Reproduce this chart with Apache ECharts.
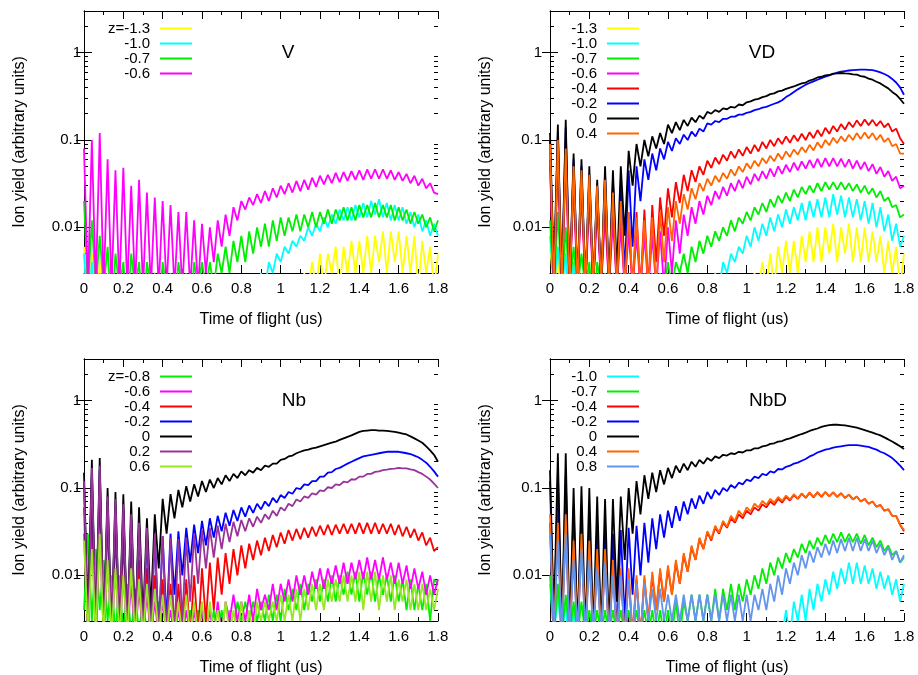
<!DOCTYPE html>
<html>
<head>
<meta charset="utf-8"/>
<title>Ion yield vs time of flight</title>
<script src="https://cdn.jsdelivr.net/npm/echarts@6.0.0/dist/echarts.min.js"></script>
<style>
    html, body { margin: 0; padding: 0; background: #fff; }
    #chart { width: 918px; height: 675px; }
</style>
</head>
<body>
<div id="chart"></div>
<script>
// time of flight (us), shared by every curve
var tof = [0,.02,.04,.06,.08,.1,.12,.14,.16,.18,
    .2,.22,.24,.26,.28,.3,.32,.34,.36,.38,
    .4,.42,.44,.46,.48,.5,.52,.54,.56,.58,
    .6,.62,.64,.66,.68,.7,.72,.74,.76,.78,
    .8,.82,.84,.86,.88,.9,.92,.94,.96,.98,
    1,1.02,1.04,1.06,1.08,1.1,1.12,1.14,1.16,1.18,
    1.2,1.22,1.24,1.26,1.28,1.3,1.32,1.34,1.36,1.38,
    1.4,1.42,1.44,1.46,1.48,1.5,1.52,1.54,1.56,1.58,
    1.6,1.62,1.64,1.66,1.68,1.7,1.72,1.74,1.76,1.78,
    1.8];

// ---- V ----
var V_m13 = [.006,.001,.005,.001,.004,.001,.003,.001,.002,.001,
    .002,.001,.002,.001,.002,.001,.002,.001,.002,.001,
    .002,.001,.002,.001,.002,.001,.002,.001,.002,.001,
    .002,.001,.002,.001,.002,.001,.002,.001,.002,.001,
    .002,.001,.002,.001,.002,.001,.002,.001,.002,.001,
    .002,.001,.002,.001,.002,.001,.003,.002,.004,.002,
    .005,.002,.005,.003,.006,.002,.006,.003,.007,.003,
    .007,.003,.008,.003,.008,.004,.009,.003,.009,.004,
    .009,.003,.008,.003,.008,.002,.007,.003,.006,.002,
    .005];
var V_m10 = [.005,.001,.004,.001,.003,.001,.002,.001,.002,.001,
    .002,.001,.002,.001,.002,.001,.002,.001,.002,.001,
    .002,.001,.002,.001,.002,.001,.002,.001,.002,.001,
    .002,.001,.002,.001,.002,.001,.002,.001,.002,.001,
    .002,.001,.002,.001,.002,.003,.002,.004,.003,.005,
    .004,.006,.005,.007,.006,.008,.007,.010,.008,.011,
    .009,.013,.010,.014,.011,.016,.012,.017,.012,.018,
    .013,.019,.013,.020,.014,.021,.013,.019,.012,.018,
    .012,.017,.011,.015,.010,.014,.009,.012,.008,.011,
    .008];
var V_m07 = [.02,.002,.012,.002,.008,.002,.006,.001,.005,.002,
    .004,.001,.005,.002,.004,.001,.004,.002,.003,.001,
    .004,.002,.003,.001,.004,.002,.003,.001,.004,.002,
    .004,.002,.004,.002,.005,.003,.006,.003,.007,.004,
    .008,.004,.009,.005,.010,.006,.011,.006,.012,.007,
    .013,.008,.013,.009,.014,.009,.014,.010,.015,.010,
    .015,.011,.016,.011,.016,.012,.017,.012,.017,.012,
    .018,.013,.018,.013,.019,.013,.018,.013,.018,.012,
    .017,.012,.016,.011,.015,.011,.014,.010,.013,.009,
    .012];
var V_m06 = [.08,.002,.10,.002,.12,.002,.06,.002,.045,.002,
    .048,.002,.03,.002,.035,.002,.025,.002,.022,.002,
    .02,.002,.018,.002,.015,.002,.015,.002,.012,.002,
    .011,.003,.01,.004,.012,.006,.014,.008,.017,.012,
    .02,.016,.022,.018,.024,.019,.026,.020,.028,.022,
    .030,.024,.032,.025,.034,.026,.035,.027,.037,.029,
    .039,.031,.040,.032,.042,.033,.043,.034,.044,.035,
    .045,.035,.046,.036,.046,.036,.046,.036,.045,.035,
    .043,.034,.041,.032,.039,.030,.036,.028,.032,.025,
    .024];

// ---- VD ----
var VD_m13 = [.006,.002,.005,.001,.004,.001,.003,.001,.002,.001,
    .002,.001,.002,.001,.002,.001,.002,.001,.002,.001,
    .002,.001,.002,.001,.002,.001,.002,.001,.002,.001,
    .002,.001,.002,.001,.002,.001,.002,.001,.002,.001,
    .002,.001,.002,.001,.002,.001,.002,.001,.002,.001,
    .002,.001,.003,.002,.004,.002,.005,.002,.006,.003,
    .007,.003,.007,.003,.008,.004,.009,.004,.01,.004,
    .01,.005,.011,.004,.01,.005,.011,.004,.01,.004,
    .01,.004,.009,.004,.008,.003,.007,.003,.006,.002,
    .005];
var VD_m10 = [.008,.002,.006,.002,.005,.001,.004,.001,.003,.001,
    .003,.001,.002,.001,.002,.001,.002,.001,.002,.001,
    .002,.001,.002,.001,.002,.001,.002,.001,.002,.001,
    .002,.001,.002,.001,.002,.001,.002,.001,.002,.001,
    .002,.002,.003,.002,.004,.003,.005,.004,.006,.005,
    .008,.006,.01,.007,.011,.008,.013,.009,.014,.01,
    .016,.011,.017,.012,.019,.012,.02,.013,.021,.013,
    .022,.013,.024,.014,.023,.013,.022,.013,.021,.012,
    .02,.011,.019,.01,.017,.009,.014,.007,.011,.006,
    .008];
var VD_m07 = [.012,.002,.015,.002,.01,.002,.006,.002,.005,.002,
    .004,.001,.004,.002,.003,.001,.003,.002,.003,.001,
    .003,.002,.003,.001,.003,.002,.003,.001,.003,.002,
    .004,.002,.004,.003,.005,.003,.006,.004,.007,.005,
    .008,.006,.009,.007,.01,.008,.012,.009,.013,.011,
    .015,.012,.017,.014,.019,.015,.021,.017,.023,.019,
    .025,.02,.027,.022,.029,.024,.03,.025,.032,.026,
    .033,.027,.033,.027,.033,.027,.032,.026,.031,.025,
    .03,.024,.028,.022,.026,.02,.022,.017,.018,.013,
    .014];
var VD_m06 = [.05,.002,.06,.002,.05,.002,.03,.002,.025,.002,
    .02,.002,.016,.002,.014,.002,.012,.002,.01,.002,
    .009,.002,.008,.002,.008,.002,.008,.002,.009,.002,
    .01,.003,.012,.005,.014,.008,.017,.011,.02,.014,
    .023,.018,.026,.021,.029,.023,.032,.026,.035,.028,
    .038,.031,.041,.034,.044,.036,.047,.038,.05,.041,
    .052,.043,.055,.045,.057,.047,.059,.048,.061,.049,
    .062,.05,.062,.05,.061,.049,.06,.047,.058,.046,
    .056,.044,.053,.041,.049,.038,.044,.034,.038,.028,
    .03];
var VD_m04 = [.06,.002,.08,.002,.09,.002,.04,.002,.035,.002,
    .03,.002,.025,.002,.02,.002,.02,.002,.018,.002,
    .015,.002,.015,.002,.016,.002,.018,.004,.022,.008,
    .028,.013,.033,.019,.04,.026,.045,.033,.05,.04,
    .058,.048,.063,.053,.068,.058,.074,.062,.078,.066,
    .083,.07,.088,.074,.095,.08,.10,.085,.105,.09,
    .11,.093,.113,.097,.118,.10,.123,.105,.13,.11,
    .138,.118,.145,.125,.152,.132,.16,.14,.168,.145,
    .172,.148,.17,.145,.165,.14,.155,.125,.135,.105,
    .09];
var VD_m02 = [.10,.002,.12,.002,.14,.002,.06,.002,.05,.002,
    .04,.002,.03,.002,.04,.002,.035,.002,.03,.003,
    .045,.006,.05,.02,.06,.035,.07,.045,.08,.06,
    .095,.075,.105,.09,.115,.10,.125,.11,.135,.125,
    .155,.15,.165,.16,.175,.175,.185,.185,.195,.195,
    .205,.21,.22,.225,.235,.24,.25,.26,.27,.285,
    .31,.33,.355,.38,.405,.43,.45,.47,.49,.51,
    .53,.55,.57,.59,.605,.615,.625,.63,.635,.64,
    .64,.635,.63,.615,.595,.57,.54,.50,.455,.40,
    .33];
var VD_0 = [.12,.003,.15,.002,.17,.002,.07,.002,.06,.002,
    .05,.002,.035,.002,.05,.002,.045,.003,.05,.008,
    .075,.03,.09,.05,.10,.065,.11,.08,.12,.09,
    .15,.12,.16,.13,.17,.145,.18,.16,.19,.175,
    .21,.20,.22,.21,.23,.225,.24,.235,.255,.25,
    .27,.277,.29,.296,.31,.318,.335,.342,.36,.368,
    .385,.398,.41,.428,.445,.455,.48,.495,.52,.53,
    .55,.555,.575,.578,.585,.578,.575,.565,.56,.54,
    .53,.505,.49,.465,.445,.415,.39,.355,.33,.295,
    .26];
var VD_p04 = [.09,.002,.10,.002,.08,.002,.05,.002,.045,.002,
    .04,.002,.03,.002,.035,.002,.025,.002,.02,.002,
    .015,.002,.013,.002,.012,.002,.013,.002,.015,.004,
    .017,.007,.02,.011,.024,.016,.028,.021,.032,.026,
    .036,.03,.039,.033,.042,.036,.046,.039,.05,.043,
    .054,.047,.058,.05,.062,.054,.066,.057,.07,.06,
    .074,.064,.078,.068,.083,.072,.088,.076,.094,.081,
    .10,.087,.106,.092,.11,.096,.115,.10,.12,.103,
    .122,.104,.12,.10,.115,.095,.105,.085,.09,.07,
    .07];

// ---- Nb ----
var Nb_m08 = [.004,.03,.003,.02,.004,.015,.003,.01,.002,.01,
    .002,.008,.002,.007,.002,.006,.002,.005,.002,.005,
    .002,.004,.002,.004,.002,.004,.002,.004,.002,.004,
    .002,.004,.002,.004,.002,.004,.002,.004,.002,.005,
    .003,.005,.003,.005,.003,.005,.003,.006,.003,.006,
    .003,.007,.004,.007,.004,.008,.004,.008,.005,.009,
    .005,.009,.005,.01,.005,.01,.006,.011,.006,.011,
    .005,.011,.006,.011,.005,.01,.006,.01,.005,.01,
    .005,.009,.004,.009,.004,.008,.004,.008,.003,.009,
    .008];
var Nb_m06 = [.03,.002,.04,.002,.03,.002,.015,.002,.012,.002,
    .01,.002,.008,.002,.007,.002,.006,.002,.005,.002,
    .005,.002,.004,.002,.004,.002,.004,.002,.004,.002,
    .004,.002,.004,.002,.005,.002,.005,.003,.006,.003,
    .005,.003,.006,.003,.007,.004,.006,.004,.008,.004,
    .008,.005,.009,.005,.01,.006,.01,.006,.011,.007,
    .012,.007,.012,.008,.013,.008,.014,.008,.014,.009,
    .015,.009,.016,.009,.015,.009,.016,.009,.014,.008,
    .014,.008,.013,.007,.012,.007,.011,.006,.01,.006,
    .009];
var Nb_m04 = [.06,.002,.08,.002,.09,.002,.04,.002,.03,.002,
    .025,.002,.02,.002,.015,.002,.012,.002,.01,.002,
    .009,.002,.008,.002,.008,.002,.009,.002,.01,.002,
    .012,.003,.014,.004,.016,.006,.018,.008,.02,.01,
    .022,.012,.023,.015,.025,.017,.027,.019,.029,.021,
    .031,.023,.033,.025,.034,.026,.035,.027,.036,.028,
    .037,.029,.038,.029,.038,.03,.039,.03,.039,.03,
    .04,.03,.04,.03,.04,.03,.039,.03,.039,.029,
    .038,.028,.036,.027,.034,.025,.031,.022,.027,.019,
    .021];
var Nb_m02 = [.12,.002,.15,.002,.16,.002,.07,.002,.06,.002,
    .055,.002,.045,.002,.04,.002,.03,.002,.03,.002,
    .028,.003,.03,.006,.032,.01,.035,.014,.038,.018,
    .042,.022,.045,.027,.048,.032,.052,.037,.056,.042,
    .06,.047,.063,.052,.066,.057,.07,.062,.077,.068,
    .083,.077,.09,.086,.10,.097,.11,.108,.12,.12,
    .135,.135,.15,.152,.165,.17,.18,.19,.20,.21,
    .22,.23,.235,.24,.245,.25,.255,.26,.26,.26,
    .26,.255,.25,.245,.235,.225,.21,.195,.175,.155,
    .135];
var Nb_0 = [.15,.003,.21,.002,.22,.002,.10,.002,.09,.002,
    .085,.002,.07,.002,.06,.003,.045,.004,.05,.012,
    .075,.03,.085,.045,.095,.06,.105,.07,.11,.08,
    .12,.09,.125,.10,.13,.11,.14,.12,.145,.13,
    .155,.14,.16,.15,.17,.16,.18,.175,.19,.19,
    .21,.215,.23,.235,.25,.26,.27,.275,.285,.29,
    .30,.31,.32,.33,.34,.355,.37,.385,.40,.42,
    .44,.45,.455,.46,.46,.455,.455,.45,.445,.44,
    .43,.42,.41,.39,.37,.35,.33,.30,.27,.24,
    .2];
var Nb_p02 = [.12,.002,.17,.002,.18,.002,.08,.002,.075,.002,
    .065,.002,.05,.002,.04,.002,.035,.002,.03,.002,
    .028,.002,.027,.002,.026,.003,.027,.005,.03,.008,
    .033,.012,.035,.016,.037,.02,.039,.024,.041,.028,
    .043,.032,.045,.036,.047,.04,.05,.044,.055,.048,
    .06,.055,.066,.062,.074,.07,.08,.077,.087,.084,
    .094,.092,.102,.10,.11,.108,.118,.116,.126,.125,
    .135,.135,.145,.145,.153,.155,.16,.162,.166,.167,
    .17,.168,.168,.163,.16,.152,.145,.135,.125,.112,
    .10];
var Nb_p06 = [.025,.002,.02,.002,.03,.002,.015,.002,.012,.002,
    .01,.002,.012,.002,.009,.002,.008,.002,.007,.002,
    .006,.002,.006,.002,.005,.002,.006,.002,.005,.002,
    .005,.002,.005,.002,.004,.002,.005,.002,.004,.002,
    .005,.002,.004,.002,.005,.003,.005,.003,.005,.003,
    .006,.003,.006,.003,.007,.003,.007,.004,.008,.004,
    .008,.004,.009,.005,.009,.005,.01,.005,.01,.005,
    .011,.004,.011,.005,.011,.004,.01,.005,.01,.004,
    .009,.005,.009,.004,.008,.004,.008,.004,.007,.004,
    .007];

// ---- NbD ----
var NbD_m10 = [.008,.002,.006,.002,.005,.001,.004,.001,.003,.001,
    .002,.001,.002,.001,.002,.001,.002,.001,.002,.001,
    .002,.001,.002,.001,.002,.001,.002,.001,.002,.001,
    .002,.001,.002,.001,.002,.001,.002,.001,.002,.001,
    .002,.001,.002,.001,.002,.001,.002,.001,.002,.001,
    .002,.001,.002,.001,.002,.001,.002,.001,.003,.002,
    .004,.002,.005,.003,.006,.003,.007,.004,.008,.005,
    .009,.006,.011,.007,.012,.008,.014,.008,.014,.008,
    .013,.008,.012,.007,.011,.007,.01,.006,.009,.005,
    .008];
var NbD_m07 = [.01,.002,.008,.002,.006,.002,.005,.002,.005,.002,
    .004,.002,.004,.002,.004,.002,.004,.002,.004,.002,
    .004,.002,.004,.002,.004,.002,.004,.002,.004,.002,
    .004,.002,.005,.002,.005,.003,.006,.003,.006,.003,
    .006,.003,.007,.003,.007,.004,.008,.004,.008,.005,
    .009,.006,.01,.007,.012,.008,.014,.01,.016,.012,
    .018,.014,.02,.016,.023,.018,.025,.02,.027,.022,
    .029,.023,.03,.024,.031,.024,.03,.024,.03,.023,
    .029,.022,.027,.021,.025,.019,.022,.017,.019,.014,
    .016];
var NbD_m04 = [.04,.002,.05,.002,.04,.002,.02,.002,.025,.002,
    .02,.002,.015,.002,.015,.002,.012,.002,.01,.002,
    .01,.002,.009,.002,.009,.003,.01,.004,.011,.005,
    .012,.006,.014,.008,.017,.011,.021,.015,.026,.02,
    .031,.025,.035,.03,.04,.035,.045,.04,.05,.045,
    .055,.05,.06,.055,.065,.06,.07,.064,.075,.068,
    .079,.072,.083,.075,.086,.077,.088,.078,.089,.079,
    .09,.08,.089,.079,.087,.077,.084,.074,.08,.07,
    .075,.066,.07,.061,.064,.055,.057,.048,.048,.038,
    .032];
var NbD_m02 = [.12,.002,.15,.002,.14,.002,.06,.002,.05,.002,
    .045,.002,.04,.002,.035,.002,.03,.002,.033,.003,
    .035,.006,.037,.01,.04,.014,.045,.02,.05,.027,
    .055,.035,.062,.042,.07,.05,.076,.058,.082,.066,
    .09,.075,.095,.083,.10,.092,.108,.10,.115,.11,
    .125,.12,.135,.13,.145,.14,.155,.15,.165,.163,
    .175,.18,.19,.195,.205,.215,.23,.24,.255,.265,
    .275,.28,.29,.295,.30,.305,.31,.31,.31,.305,
    .30,.295,.285,.275,.26,.25,.235,.22,.20,.18,
    .16];
var NbD_0 = [.16,.003,.25,.002,.25,.002,.10,.002,.105,.002,
    .10,.002,.08,.002,.075,.002,.075,.005,.08,.015,
    .10,.03,.12,.05,.14,.075,.15,.09,.16,.11,
    .17,.13,.18,.15,.19,.16,.20,.175,.21,.19,
    .22,.205,.23,.22,.24,.235,.25,.245,.26,.255,
    .27,.27,.285,.285,.30,.305,.32,.325,.34,.345,
    .36,.37,.385,.40,.415,.43,.45,.465,.48,.50,
    .515,.525,.53,.53,.525,.52,.51,.50,.49,.475,
    .46,.445,.43,.415,.40,.38,.36,.34,.32,.30,
    .28];
var NbD_p04 = [.05,.002,.04,.002,.05,.002,.025,.002,.03,.002,
    .025,.002,.02,.002,.02,.002,.015,.002,.012,.002,
    .012,.002,.01,.002,.01,.003,.011,.004,.012,.005,
    .013,.006,.015,.008,.018,.011,.022,.015,.027,.02,
    .032,.026,.037,.031,.042,.036,.048,.042,.055,.048,
    .06,.054,.066,.06,.071,.064,.075,.068,.079,.071,
    .082,.074,.085,.076,.087,.078,.089,.079,.09,.08,
    .09,.08,.089,.079,.087,.077,.084,.074,.08,.07,
    .075,.066,.07,.061,.064,.055,.057,.048,.048,.038,
    .033];
var NbD_p08 = [.03,.002,.025,.002,.03,.002,.015,.002,.02,.002,
    .015,.002,.012,.002,.014,.002,.01,.002,.01,.002,
    .009,.002,.008,.002,.008,.003,.007,.003,.007,.003,
    .006,.003,.006,.003,.006,.003,.006,.003,.006,.003,
    .006,.003,.006,.003,.006,.003,.006,.003,.006,.003,
    .006,.003,.006,.004,.007,.004,.008,.005,.01,.006,
    .012,.008,.014,.01,.017,.012,.019,.014,.021,.016,
    .023,.017,.025,.018,.026,.019,.027,.019,.027,.019,
    .026,.019,.025,.018,.023,.017,.021,.015,.019,.014,
    .017];

// y ticks of the log axis
var majorTicks = [0.01, 0.1, 1];
var minorTicks = [0.003, 0.004, 0.005, 0.006, 0.007, 0.008, 0.009,
    0.02, 0.03, 0.04, 0.05, 0.06, 0.07, 0.08, 0.09,
    0.2, 0.3, 0.4, 0.5, 0.6, 0.7, 0.8, 0.9, 2, 3];

var FONT = "'Liberation Sans', Arial, sans-serif";

var panels = [
    {label: 'V', left: 84, top: 11, labelX: 288, labelMargin: 3, legendX: 94,
        lines: [['z=-1.3', '#ffff00', V_m13], ['-1.0', '#00ffff', V_m10],
            ['-0.7', '#00ee00', V_m07], ['-0.6', '#ff00ff', V_m06]]},
    {label: 'VD', left: 550, top: 11, labelX: 762, labelMargin: 8, legendX: 541,
        lines: [['-1.3', '#ffff00', VD_m13], ['-1.0', '#00ffff', VD_m10],
            ['-0.7', '#00ee00', VD_m07], ['-0.6', '#ff00ff', VD_m06],
            ['-0.4', '#ff0000', VD_m04], ['-0.2', '#0000ff', VD_m02],
            ['0', '#000000', VD_0], ['0.4', '#ff6600', VD_p04]]},
    {label: 'Nb', left: 84, top: 359, labelX: 294, labelMargin: 3, legendX: 94,
        lines: [['z=-0.8', '#00ee00', Nb_m08], ['-0.6', '#ff00ff', Nb_m06],
            ['-0.4', '#ff0000', Nb_m04], ['-0.2', '#0000ff', Nb_m02],
            ['0', '#000000', Nb_0], ['0.2', '#993399', Nb_p02],
            ['0.6', '#99e622', Nb_p06]]},
    {label: 'NbD', left: 550, top: 359, labelX: 768, labelMargin: 8, legendX: 541,
        lines: [['-1.0', '#00ffff', NbD_m10], ['-0.7', '#00ee00', NbD_m07],
            ['-0.4', '#ff0000', NbD_m04], ['-0.2', '#0000ff', NbD_m02],
            ['0', '#000000', NbD_0], ['0.4', '#ff6600', NbD_p04],
            ['0.8', '#6495ed', NbD_p08]]}
];

var W = 354, H = 262;
var grid = [], xAxis = [], yAxis = [], series = [], legend = [], graphic = [];

panels.forEach(function (p, k) {
    var gMain = 2 * k, gMinor = 2 * k + 1;
    grid.push({left: p.left, top: p.top, width: W, height: H, outerBoundsMode: 'none'},
        {left: p.left, top: p.top, width: W, height: H, outerBoundsMode: 'none'});

    var tickStyle = {color: '#000', width: 1};
    var xBase = {
        type: 'value', min: 0, max: 1.8, interval: 0.2,
        axisLine: {show: true, lineStyle: tickStyle},
        axisTick: {show: true, inside: true, length: 8, lineStyle: tickStyle},
        minorTick: {show: true, splitNumber: 2, length: 4, lineStyle: tickStyle},
        splitLine: {show: false}, minorSplitLine: {show: false}
    };
    xAxis.push(Object.assign({}, xBase, {
        gridIndex: gMain, position: 'bottom',
        axisLabel: {color: '#000', fontSize: 15, fontFamily: FONT, margin: 8},
        name: 'Time of flight (us)', nameLocation: 'middle', nameGap: 39,
        nameTextStyle: {color: '#000', fontSize: 16, fontFamily: FONT}
    }));
    xAxis.push(Object.assign({}, xBase, {
        gridIndex: gMain, position: 'top', axisLabel: {show: false}
    }));
    xAxis.push({gridIndex: gMinor, type: 'value', min: 0, max: 1.8, show: false});

    var yBase = {
        type: 'log', logBase: 10, min: 0.003, max: 3,
        splitLine: {show: false}
    };
    yAxis.push(Object.assign({}, yBase, {
        gridIndex: gMain, position: 'left',
        axisLine: {show: true, lineStyle: tickStyle},
        axisTick: {show: true, inside: true, length: 8, lineStyle: tickStyle, customValues: majorTicks},
        axisLabel: {color: '#000', fontSize: 15, fontFamily: FONT, margin: p.labelMargin, customValues: majorTicks},
        name: 'Ion yield (arbitrary units)', nameLocation: 'middle', nameGap: 56, nameRotate: 90,
        nameTextStyle: {color: '#000', fontSize: 16, fontFamily: FONT}
    }));
    yAxis.push(Object.assign({}, yBase, {
        gridIndex: gMain, position: 'right',
        axisLine: {show: true, lineStyle: tickStyle},
        axisTick: {show: true, inside: true, length: 8, lineStyle: tickStyle, customValues: majorTicks},
        axisLabel: {show: false}
    }));
    // minor log ticks on both sides
    ['left', 'right'].forEach(function (side) {
        yAxis.push(Object.assign({}, yBase, {
            gridIndex: gMinor, position: side,
            axisLine: {show: false},
            axisTick: {show: true, inside: true, length: 4, lineStyle: tickStyle, customValues: minorTicks},
            axisLabel: {show: false}
        }));
    });

    var xIdx = 3 * k, yIdx = 4 * k;
    var names = [];
    p.lines.forEach(function (ln) {
        names.push(ln[0]);
        var arr = ln[2];
        series.push({
            type: 'line', name: ln[0],
            xAxisIndex: xIdx, yAxisIndex: yIdx,
            showSymbol: false, symbol: 'none', silent: true,
            lineStyle: {color: ln[1], width: 1.8},
            itemStyle: {color: ln[1]},
            data: tof.map(function (t, i) { return [t, arr[i]]; })
        });
    });

    legend.push({
        orient: 'vertical', left: p.legendX, top: p.top + 10, padding: 0,
        itemGap: 0, itemWidth: 32, itemHeight: 2, icon: 'rect', align: 'right',
        selectedMode: false, data: names,
        formatter: function (name) { return '{a|' + name + '}'; },
        textStyle: {
            color: '#000', fontSize: 15, fontFamily: FONT,
            rich: {a: {width: 56, align: 'right', fontSize: 15, lineHeight: 15, fontFamily: FONT, padding: [0, 5, 0, 0]}}
        }
    });

    graphic.push({
        type: 'text', x: p.labelX, y: p.top + 42,
        style: {text: p.label, font: '19px ' + FONT, fill: '#000', textAlign: 'center', textVerticalAlign: 'middle'}
    });
});

var chart = echarts.init(document.getElementById('chart'));
chart.setOption({
    animation: false,
    backgroundColor: '#fff',
    grid: grid,
    xAxis: xAxis,
    yAxis: yAxis,
    legend: legend,
    graphic: graphic,
    series: series
});
</script>
</body>
</html>
